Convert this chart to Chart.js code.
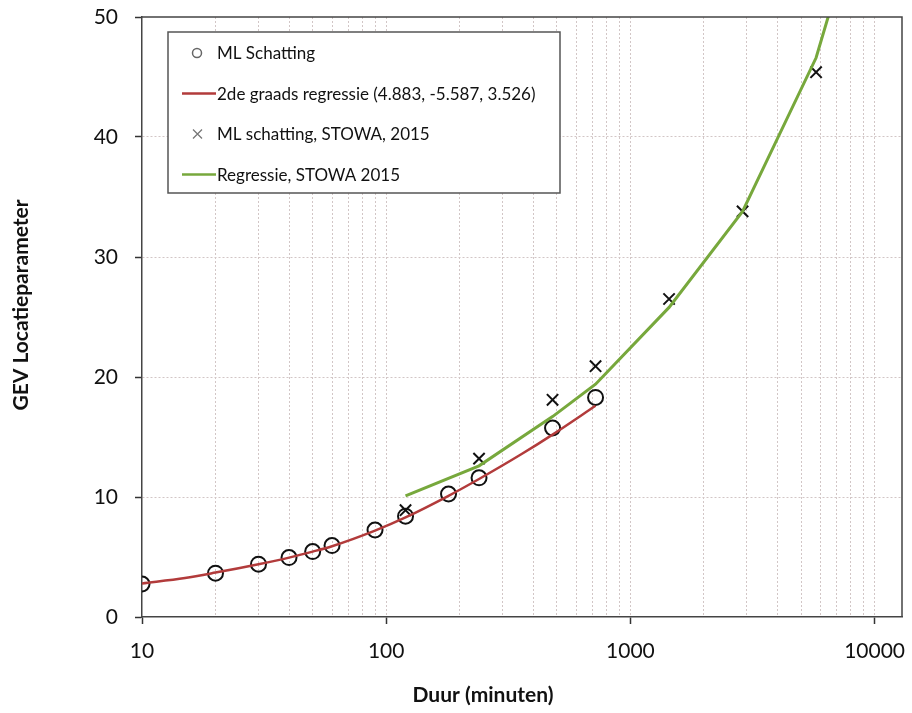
<!DOCTYPE html>
<html>
<head>
<meta charset="utf-8">
<script src="https://cdn.jsdelivr.net/npm/chart.js@4/dist/chart.umd.min.js"></script>
<style>
  html, body { margin: 0; padding: 0; background: #fff; }
  #wrap { width: 912px; height: 713px; }
</style>
</head>
<body>
<div id="wrap"><canvas id="chart" width="912" height="713"></canvas></div>
<script>
// ML Schatting (circles)
const mlDuur = [10, 20, 30, 40, 50, 60, 90, 120, 180, 240, 480, 720];
const mlWaarde = [2.75, 3.65, 4.4, 4.95, 5.45, 5.95, 7.25, 8.4, 10.25, 11.6, 15.75, 18.3];

// 2de graads regressie (red line)
const regDuur = [10, 15, 20, 30, 40, 50, 60, 90, 120, 180, 240, 360, 480, 720];
const regWaarde = [2.8, 3.25, 3.7, 4.4, 4.95, 5.45, 5.9, 7.2, 8.3, 10.1, 11.5, 13.6, 15.2, 17.6];

// ML schatting, STOWA 2015 (crosses)
const stowaDuur = [120, 240, 480, 720, 1440, 2880, 5760];
const stowaWaarde = [8.9, 13.2, 18.1, 20.9, 26.5, 33.8, 45.4];

// Regressie, STOWA 2015 (green line)
const stowaRegDuur = [120, 240, 480, 720, 1440, 2880, 5760, 6900];
const stowaRegWaarde = [10.1, 12.6, 16.7, 19.4, 25.8, 33.8, 46.6, 52];

const xLabels = [10, 100, 1000, 10000];
const yTicks = [0, 10, 20, 30, 40, 50];

const legendItems = [
  { text: 'ML Schatting', kind: 'circle' },
  { text: '2de graads regressie (4.883, -5.587, 3.526)', kind: 'line', color: '#b23b3b' },
  { text: 'ML schatting, STOWA, 2015', kind: 'cross' },
  { text: 'Regressie, STOWA 2015', kind: 'line', color: '#77a83c' },
];

const FONT = 'Lato, "Open Sans", sans-serif';
const toPts = (xs, ys) => xs.map((x, i) => ({ x: x, y: ys[i] }));

const frameAndLegend = {
  id: 'frameAndLegend',
  afterDraw(chart) {
    const { ctx, chartArea: a } = chart;
    ctx.save();
    // top + right frame
    ctx.strokeStyle = '#444';
    ctx.lineWidth = 1.5;
    ctx.beginPath();
    ctx.moveTo(a.left, a.top);
    ctx.lineTo(a.right, a.top);
    ctx.lineTo(a.right, a.bottom);
    ctx.stroke();

    // legend box
    const bx = 168, by = 32, bw = 392, bh = 161;
    ctx.fillStyle = '#fff';
    ctx.fillRect(bx, by, bw, bh);
    ctx.strokeStyle = '#555';
    ctx.lineWidth = 1.5;
    ctx.strokeRect(bx, by, bw, bh);
    ctx.font = '17px ' + FONT;
    ctx.textBaseline = 'middle';
    ctx.textAlign = 'left';
    legendItems.forEach((it, i) => {
      const y = 53 + i * 40.5;
      if (it.kind === 'line') {
        ctx.strokeStyle = it.color;
        ctx.lineWidth = 2.5;
        ctx.beginPath();
        ctx.moveTo(182, y);
        ctx.lineTo(216, y);
        ctx.stroke();
      } else if (it.kind === 'circle') {
        ctx.strokeStyle = '#666';
        ctx.lineWidth = 1.5;
        ctx.beginPath();
        ctx.arc(197, y, 4.5, 0, Math.PI * 2);
        ctx.stroke();
      } else {
        ctx.strokeStyle = '#777';
        ctx.lineWidth = 1.3;
        ctx.beginPath();
        ctx.moveTo(193, y - 4.5); ctx.lineTo(202, y + 4.5);
        ctx.moveTo(202, y - 4.5); ctx.lineTo(193, y + 4.5);
        ctx.stroke();
      }
      ctx.fillStyle = '#111';
      ctx.fillText(it.text, 217, y + 1);
    });

    // axis titles
    ctx.fillStyle = '#111';
    ctx.font = 'bold 21px ' + FONT;
    ctx.textAlign = 'center';
    ctx.fillText('Duur (minuten)', 483, 695);
    ctx.translate(21, 305);
    ctx.rotate(-Math.PI / 2);
    ctx.fillText('GEV Locatieparameter', 0, 0);
    ctx.restore();
  }
};

new Chart(document.getElementById('chart'), {
  type: 'scatter',
  data: {
    datasets: [
      {
        label: 'Regressie, STOWA 2015',
        type: 'line',
        data: toPts(stowaRegDuur, stowaRegWaarde),
        borderColor: '#77a83c',
        borderWidth: 3,
        pointRadius: 0,
        tension: 0,
        fill: false,
      },
      {
        label: '2de graads regressie (4.883, -5.587, 3.526)',
        type: 'line',
        data: toPts(regDuur, regWaarde),
        borderColor: '#b23b3b',
        borderWidth: 2.5,
        pointRadius: 0,
        cubicInterpolationMode: 'monotone',
        fill: false,
      },
      {
        label: 'ML Schatting',
        data: toPts(mlDuur, mlWaarde),
        pointStyle: 'circle',
        pointRadius: 7.5,
        borderColor: '#111',
        borderWidth: 2,
        backgroundColor: 'rgba(255,255,255,0)',
      },
      {
        label: 'ML schatting, STOWA, 2015',
        data: toPts(stowaDuur, stowaWaarde),
        pointStyle: 'crossRot',
        pointRadius: 8,
        borderColor: '#111',
        borderWidth: 2,
      },
    ]
  },
  options: {
    responsive: false,
    animation: false,
    layout: { padding: { top: 17, right: 8, left: 0, bottom: 0 } },
    plugins: {
      legend: { display: false },
      tooltip: { enabled: false },
    },
    scales: {
      x: {
        type: 'logarithmic',
        min: 10,
        max: 12950,
        afterBuildTicks(scale) {
          const ticks = [];
          xLabels.forEach((dec) => {
            for (let m = 1; m <= 9; m++) {
              const v = dec * m;
              if (v <= scale.max) ticks.push({ value: v });
            }
          });
          scale.ticks = ticks;
        },
        afterFit(scale) {
          scale.height = 96;
          scale.paddingLeft = 0;
          scale.paddingRight = 0;
        },
        ticks: {
          autoSkip: false,
          maxRotation: 0,
          padding: 15,
          color: '#111',
          font: { family: FONT, size: 21 },
          callback: (v) => (xLabels.includes(v) ? String(v) : ''),
        },
        grid: {
          color: (c) => (c.tick && c.tick.value === 10 ? 'rgba(0,0,0,0)' : '#d2c6c6'),
          lineWidth: 1,
          tickLength: 7,
          tickColor: (c) => (c.tick && xLabels.includes(c.tick.value) ? '#333' : 'rgba(0,0,0,0)'),
          tickWidth: 1.5,
        },
        border: { color: '#444', width: 1.5, dash: [2, 2] },
      },
      y: {
        min: 0,
        max: 50,
        afterBuildTicks(scale) {
          scale.ticks = yTicks.map((v) => ({ value: v }));
        },
        afterFit(scale) {
          scale.width = 142;
          scale.paddingTop = 0;
          scale.paddingBottom = 0;
        },
        ticks: {
          padding: 17,
          color: '#111',
          font: { family: FONT, size: 21 },
        },
        grid: {
          color: (c) => (c.tick && (c.tick.value === 0 || c.tick.value === 50) ? 'rgba(0,0,0,0)' : '#d2c6c6'),
          lineWidth: 1,
          tickLength: 7,
          tickColor: '#333',
          tickWidth: 1.5,
        },
        border: { color: '#444', width: 1.5, dash: [2, 2] },
      },
    },
  },
  plugins: [frameAndLegend],
});
</script>
</body>
</html>
